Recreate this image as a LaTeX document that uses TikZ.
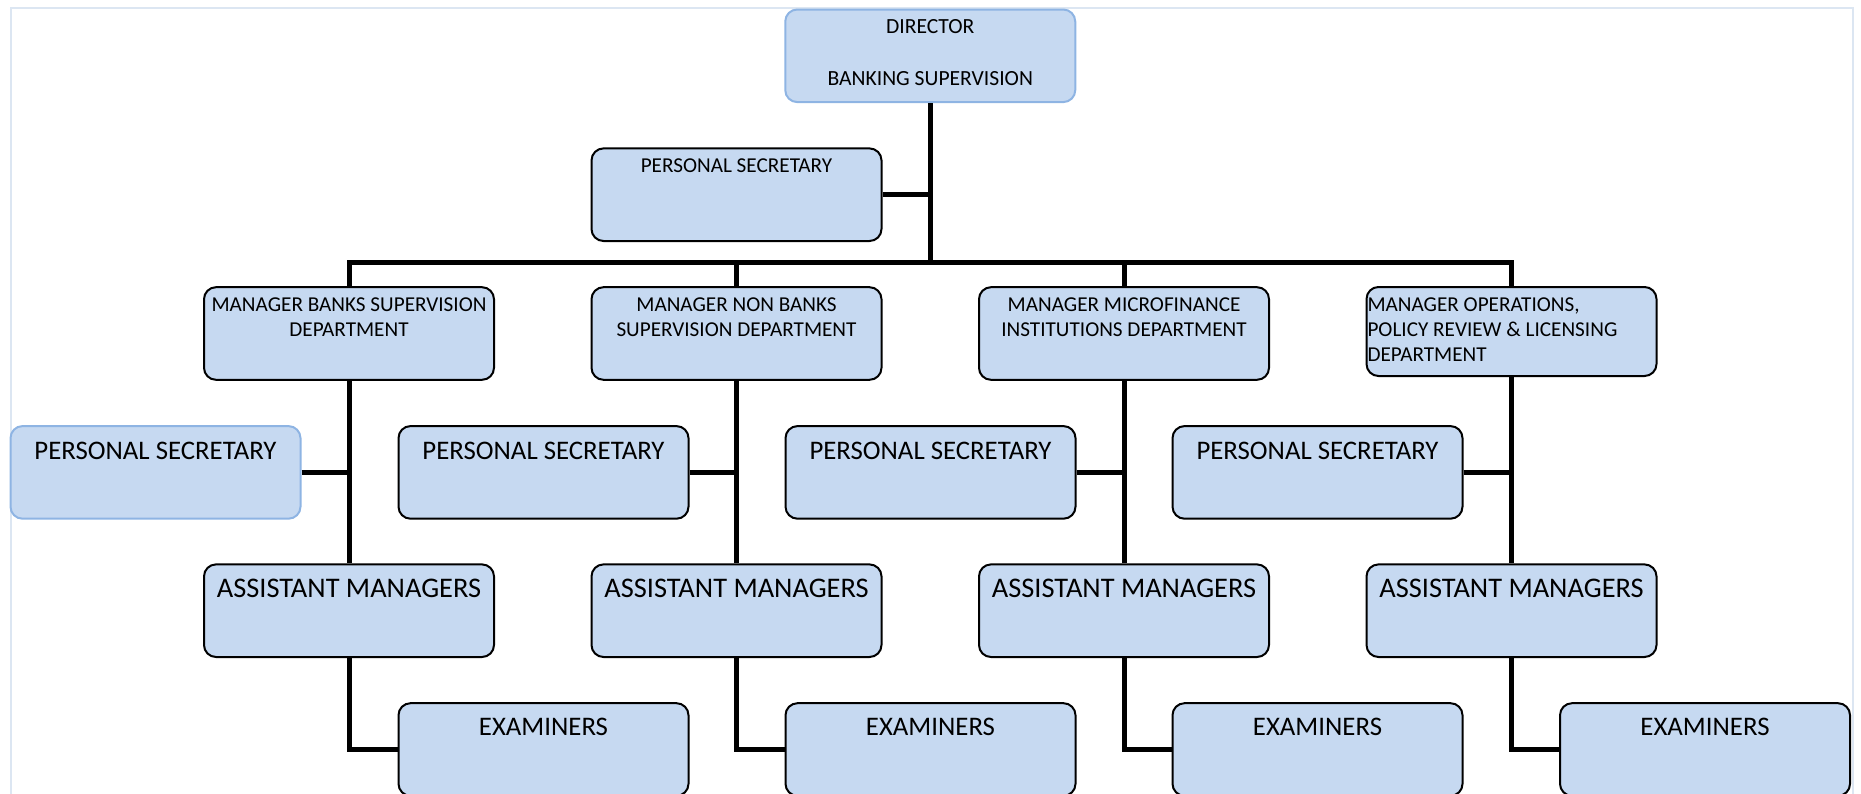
\documentclass[tikz,border=0pt]{standalone}
\usepackage{fontspec}
\setmainfont{Carlito}
\definecolor{cardfill}{HTML}{C6D9F1}
\definecolor{cardline}{HTML}{8EB4E3}
\definecolor{framecol}{HTML}{DCE6F2}
\newcommand{\cardtext}[3][\centering]{\parbox[c][46.3pt][t]{144pt}{#1\rule{0pt}{#2}#3}}
\begin{document}
\begin{tikzpicture}[x=0.5pt,y=-0.5pt]
          \tikzstyle{card}=[draw=black,line width=1pt,fill=cardfill,rounded corners=6pt,inner sep=0pt,minimum width=145pt,minimum height=46.3pt]
          \tikzstyle{small}=[font=\fontsize{10.6}{12.5}\selectfont]
          \tikzstyle{big}=[font=\fontsize{13.4}{16}\selectfont]
          \tikzstyle{bigger}=[font=\fontsize{14.2}{17}\selectfont]
          \tikzstyle{soft}=[draw=cardline]
          \tikzstyle{link}=[draw,line width=2.5pt]
          \useasboundingbox (0,0) rectangle (1861,793);
          \clip (0,0) rectangle (1861,793);
          \draw [framecol,line width=1pt] (11,8) rectangle (1853,830);
          \begin{scope}
              % top of the chart
              \node [card,soft,font=\fontsize{10.8}{13.1}\selectfont] (dir) at (930.25,55.8) {\cardtext{11.9pt}{DIRECTOR\\\mbox{}\\BANKING SUPERVISION}};
              \node [card,small] (sec) at (736.5,194.7) {\cardtext{11.9pt}{PERSONAL SECRETARY}};
              \coordinate (bus) at (930.25,262.3);
              % managers
              \node [card,small] (m1) at (349,333.5) {\cardtext{11.9pt}{MANAGER BANKS SUPERVISION\\DEPARTMENT}};
              \node [card,small] (m2) at (736.5,333.5) {\cardtext{11.9pt}{MANAGER NON BANKS\\SUPERVISION DEPARTMENT}};
              \node [card,small] (m3) at (1124,333.5) {\cardtext{11.9pt}{MANAGER MICROFINANCE\\INSTITUTIONS DEPARTMENT}};
              \node [card,small,minimum height=44.5pt] (m4) at (1511.5,331.5) {\parbox[c][44.5pt][t]{144pt}{\raggedright\rule{0pt}{12.3pt}MANAGER OPERATIONS,\\POLICY REVIEW \& LICENSING\\DEPARTMENT}};
              % secretaries
              \node [card,big,soft] (s1) at (155.5,472.4) {\cardtext{16.6pt}{PERSONAL SECRETARY}};
              \node [card,big] (s2) at (543.5,472.4) {\cardtext{16.6pt}{PERSONAL SECRETARY}};
              \node [card,big] (s3) at (930.5,472.4) {\cardtext{16.6pt}{PERSONAL SECRETARY}};
              \node [card,big] (s4) at (1317.5,472.4) {\cardtext{16.6pt}{PERSONAL SECRETARY}};
              % assistant managers
              \node [card,bigger] (a1) at (349,610.7) {\cardtext{16.6pt}{ASSISTANT MANAGERS}};
              \node [card,bigger] (a2) at (736.5,610.7) {\cardtext{16.6pt}{ASSISTANT MANAGERS}};
              \node [card,bigger] (a3) at (1124,610.7) {\cardtext{16.6pt}{ASSISTANT MANAGERS}};
              \node [card,bigger] (a4) at (1511.5,610.7) {\cardtext{16.6pt}{ASSISTANT MANAGERS}};
              % examiners
              \node [card,big] (e1) at (543.5,749.5) {\cardtext{16pt}{EXAMINERS}};
              \node [card,big] (e2) at (930.5,749.5) {\cardtext{16pt}{EXAMINERS}};
              \node [card,big] (e3) at (1317.5,749.5) {\cardtext{16pt}{EXAMINERS}};
              \node [card,big] (e4) at (1705,749.5) {\cardtext{16pt}{EXAMINERS}};
              % lines
              \path[link] (dir.south) -- (bus);
              \path[link] (sec.east) -- (sec.east -| dir.south);
              \path[link] (m1.north) |- (bus) -| (m4.north);
              \path[link] (m2.north) -- (m2.north |- bus);
              \path[link] (m3.north) -- (m3.north |- bus);
              \path[link] (m1.south) -- (a1.north);
              \path[link] (m2.south) -- (a2.north);
              \path[link] (m3.south) -- (a3.north);
              \path[link] (m4.south) -- (a4.north);
              \path[link] (s1.east) -- (s1.east -| m1.south);
              \path[link] (s2.east) -- (s2.east -| m2.south);
              \path[link] (s3.east) -- (s3.east -| m3.south);
              \path[link] (s4.east) -- (s4.east -| m4.south);
              \path[link] (a1.south) |- (e1.west);
              \path[link] (a2.south) |- (e2.west);
              \path[link] (a3.south) |- (e3.west);
              \path[link] (a4.south) |- (e4.west);
          \end{scope}
        \end{tikzpicture}
\end{document}
